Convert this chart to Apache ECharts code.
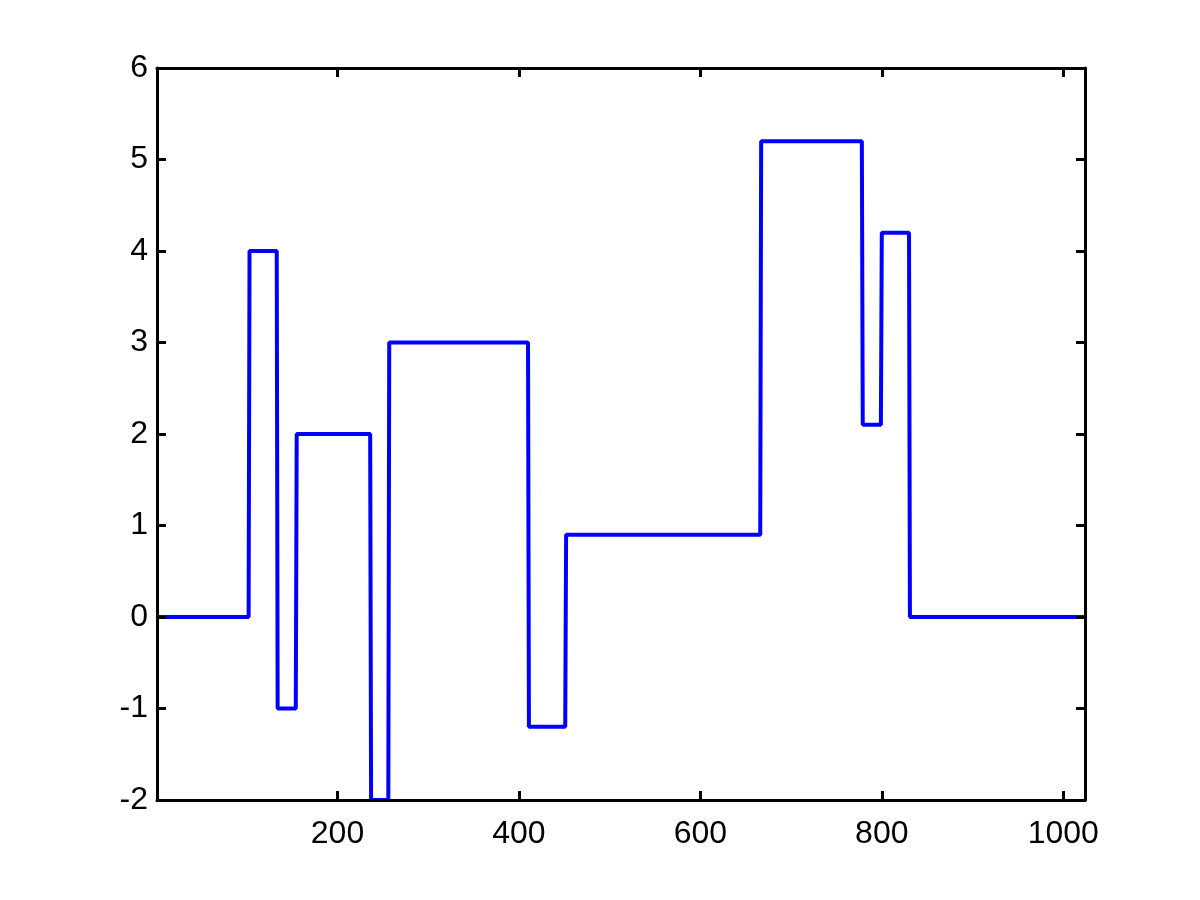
<!DOCTYPE html>
<html>
<head>
<meta charset="utf-8">
<script src="https://cdn.jsdelivr.net/npm/echarts@6/dist/echarts.min.js"></script>
<style>html,body{margin:0;padding:0;background:#fff}#c{width:1200px;height:900px}</style>
</head>
<body>
<div id="c"></div>
<script>
// Blocks signal: jump locations (sample index) and the level held after each jump
var jumpX = [102, 133, 154, 236, 256, 410, 451, 666, 778, 799, 830];
var levels = [0, 4, -1, 2, -2, 3, -1.2, 0.9, 5.2, 2.1, 4.2, 0];
var xStart = 1, xEnd = 1024;
var xTickLabels = [200, 400, 600, 800, 1000];
var yTickLabels = [-2, -1, 0, 1, 2, 3, 4, 5, 6];

var pts = [[xStart, levels[0]]];
for (var i = 0; i < jumpX.length; i++) {
  pts.push([jumpX[i], levels[i]]);
  pts.push([jumpX[i] + 1, levels[i + 1]]);
}
pts.push([xEnd, levels[levels.length - 1]]);

var font = 'Liberation Sans, Arial, Helvetica, sans-serif';
var axisLine = {show: true, onZero: false, lineStyle: {color: '#000', width: 3}};
var tick = {show: true, inside: true, length: 9, lineStyle: {color: '#000', width: 3}};
var fmt = function (v) { return String(v); };

var chart = echarts.init(document.getElementById('c'));
chart.setOption({
  animation: false,
  backgroundColor: '#fff',
  grid: {left: 157, top: 68, right: 115, bottom: 100, containLabel: false},
  xAxis: [{
    type: 'value', min: xStart, max: xEnd, position: 'bottom', z: 5,
    axisLine: axisLine,
    axisTick: Object.assign({}, tick, {customValues: xTickLabels}),
    axisLabel: {customValues: xTickLabels, formatter: fmt, color: '#000', fontSize: 32, fontFamily: font, margin: 18},
    splitLine: {show: false}
  }, {
    type: 'value', min: xStart, max: xEnd, position: 'top', z: 5,
    axisLine: axisLine,
    axisTick: Object.assign({}, tick, {customValues: xTickLabels}),
    axisLabel: {show: false},
    splitLine: {show: false}
  }],
  yAxis: [{
    type: 'value', min: -2, max: 6, interval: 1, position: 'left', z: 5,
    axisLine: axisLine,
    axisTick: tick,
    axisLabel: {customValues: yTickLabels, formatter: fmt, color: '#000', fontSize: 32, fontFamily: font, margin: 9},
    splitLine: {show: false}
  }, {
    type: 'value', min: -2, max: 6, interval: 1, position: 'right', z: 5,
    axisLine: axisLine,
    axisTick: tick,
    axisLabel: {show: false},
    splitLine: {show: false}
  }],
  series: [{
    type: 'line',
    z: 1,
    data: pts,
    showSymbol: false,
    clip: true,
    lineStyle: {color: '#0000ff', width: 4},
    itemStyle: {color: '#0000ff'}
  }]
});
</script>
</body>
</html>
